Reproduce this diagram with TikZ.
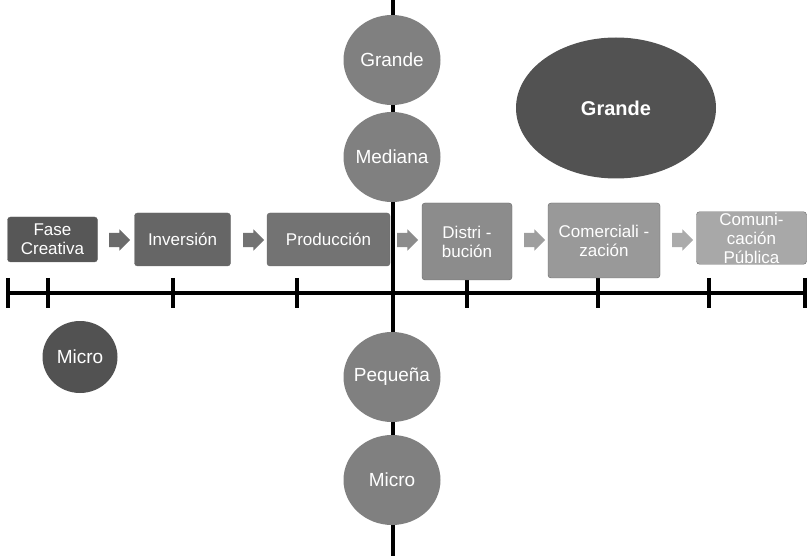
\documentclass[tikz,border=0pt]{standalone}
\usepackage{fontspec}
\setmainfont{Liberation Sans}
\usepackage{xcolor}
\definecolor{phaseone}{gray}{0.34}
\definecolor{phasetwo}{gray}{0.40}
\definecolor{phasethree}{gray}{0.45}
\definecolor{phasefour}{gray}{0.55}
\definecolor{phasefive}{gray}{0.60}
\definecolor{phasesix}{gray}{0.66}
\definecolor{bubblegray}{gray}{0.50}
\definecolor{darkbubble}{gray}{0.32}
\usetikzlibrary{shapes.geometric,shapes.arrows}

\tikzset{
  phase/.style={rectangle, rounded corners=3, draw=black!60, fill=#1,
    text=white, align=center, inner sep=1,
    font=\fontsize{17}{19}\selectfont},
  sizebubble/.style={ellipse, fill=bubblegray, text=white,
    minimum width=97, minimum height=90, inner xsep=-14, inner ysep=0,
    font=\fontsize{19}{21}\selectfont},
  chev/.style={single arrow, fill=#1, minimum height=21, minimum width=21,
    single arrow head extend=3.5, inner xsep=0, inner ysep=7},
  axisline/.style={line width=4}
}

\begin{document}
\begin{tikzpicture}[x=1pt, y=-1pt]
    \useasboundingbox (0,0) rectangle (809,556);

    %  axes
    \coordinate (vtop) at (393,0);
    \coordinate (vbot) at (393,556);
    \coordinate (hleft) at (8,293);
    \coordinate (hright) at (805,293);
    \draw [axisline] (vtop) -- (vbot);
    \draw [axisline] (hleft) -- (hright);
    \foreach \tx in {8,48,173,297,467,598,709,805}
      \draw [axisline] (\tx,278) -- (\tx,308);

    %  company size along the vertical axis
    \node [sizebubble] (grande) at (392, 60) {Grande};
    \node [sizebubble] (mediana) at (392, 157) {Mediana};
    \node [sizebubble] (pequena) at (392, 377) {Pequeña};
    \node [sizebubble] (micro) at (392, 480) {Micro};

    %  highlighted sizes
    \node [ellipse, fill=darkbubble, text=white, minimum width=200,
      minimum height=141, font=\fontsize{20}{22}\selectfont\bfseries]
      (bigone) at (616, 108) {Grande};
    \node [ellipse, fill=darkbubble, text=white, minimum width=75,
      minimum height=72, inner xsep=-10, inner ysep=0,
      font=\fontsize{19}{21}\selectfont]
      (smallone) at (80, 357) {Micro};

    %  value chain phases
    \node [phase=phaseone, minimum width=90, minimum height=45]
      (fase) at (52.5, 239.5) {Fase\\Creativa};
    \node [phase=phasetwo, minimum width=96, minimum height=53]
      (inv) at (182.5, 239.5) {Inversión};
    \node [phase=phasethree, minimum width=123, minimum height=53]
      (prod) at (328.5, 239.5) {Producción};
    \node [phase=phasefour, minimum width=90, minimum height=77]
      (dist) at (467, 241.5) {Distri -\\bución};
    \node [phase=phasefive, minimum width=112, minimum height=75]
      (comer) at (604, 240.5) {Comerciali -\\zación};
    \node [phase=phasesix, minimum width=110, minimum height=51]
      (publ) at (751.5, 238) {Comuni-\\cación\\Pública};

    %  arrows between phases
    \node [chev=black!58] (a1) at (116, 240) {};
    \node [chev=black!55] (a2) at (250, 240) {};
    \node [chev=black!45] (a3) at (404, 240) {};
    \node [chev=black!38] (a4) at (531, 240) {};
    \node [chev=black!33] (a5) at (679, 240) {};
\end{tikzpicture}
\end{document}
